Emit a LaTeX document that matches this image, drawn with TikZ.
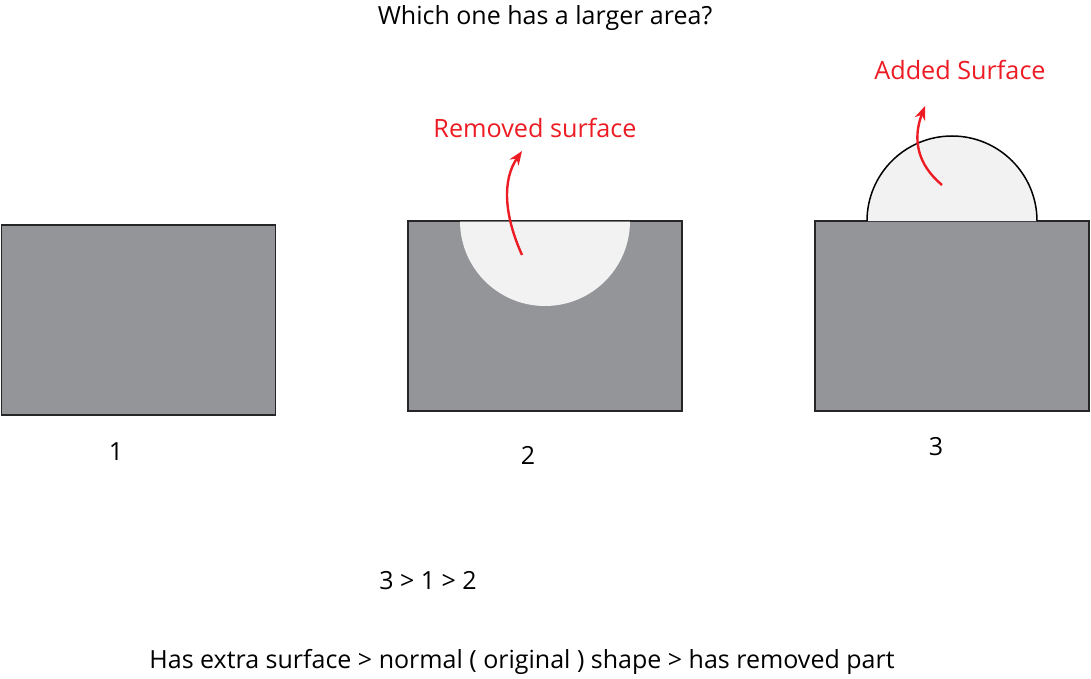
\documentclass[tikz,border=0pt]{standalone}
\usepackage{fontspec}
\setmainfont{Open Sans}
\usepackage{xcolor}
\usetikzlibrary{arrows.meta}

\definecolor{slab}{HTML}{939598}
\definecolor{cutfill}{HTML}{F2F2F2}
\definecolor{markred}{HTML}{ED1C24}

\begin{document}
\begin{tikzpicture}[
    x=1pt, y=-1pt,
    font=\fontsize{25}{29}\selectfont,
    every node/.style={align=center},
    slabbox/.style={draw=black!85, line width=1.5pt, fill=slab,
      minimum width=274pt, minimum height=190pt, inner sep=0pt},
    txtlbl/.style={font=\fontsize{25}{29}\selectfont},
    note/.style={text=markred, font=\fontsize{25.2}{29}\selectfont},
    arr/.style={-{Stealth[length=14pt, width=11pt]}, line width=2.4pt, draw=markred},
  ]
    \useasboundingbox (0,0) rectangle (1091,679);

    % --- title ---
    \node[txtlbl] (title) at (545,18) {Which one has a larger area?};

    % --- shapes ---
    \node[slabbox] (rect1) at (138.5,320) {};
    \node[slabbox] (rect2) at (545,316) {};
    \node[slabbox] (rect3) at (952,316) {};

    % removed half disc in shape 2
    \fill[cutfill] (460,221) arc[start angle=180, end angle=0, radius=85] -- cycle;
    \draw[slab!80!black, line width=0.8pt] (460,221) -- (630,221);

    % added half disc on shape 3
    \filldraw[fill=cutfill, draw=black, line width=1.5pt]
      (867,221) arc[start angle=180, end angle=360, radius=85];

    % --- notes ---
    \node[note] (lblRemoved) at (535,128) {Removed surface};
    \node[note] (lblAdded)   at (960,70)  {Added Surface};

    \coordinate (fromRemoved) at (522,255);
    \coordinate (toRemoved)   at (522,151);
    \coordinate (fromAdded)   at (942,185);
    \coordinate (toAdded)     at (925,106);

    \draw[arr] (fromRemoved) .. controls (504,215) and (502,180) .. (toRemoved);
    \draw[arr] (fromAdded) .. controls (918,165) and (912,140) .. (toAdded);

    % --- numbers ---
    \node[txtlbl] (num1) at (116,452) {1};
    \node[txtlbl] (num2) at (528,455) {2};
    \node[txtlbl] (num3) at (936,447) {3};

    \node[txtlbl] (order) at (428,581) {3 > 1 > 2};
    \node[txtlbl] (rule)  at (522,662)
      {Has extra surface > normal ( original ) shape > has removed part};
  \end{tikzpicture}
\end{document}
